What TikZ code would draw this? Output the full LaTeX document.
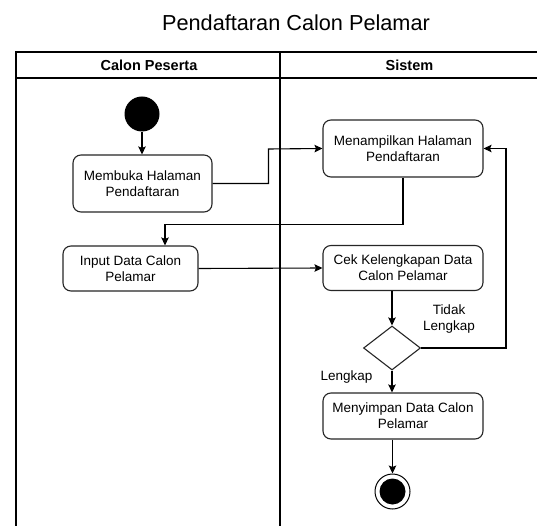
\documentclass[tikz,border=0pt]{standalone}
\usepackage{fontspec}
\setmainfont{Liberation Sans}
\usetikzlibrary{arrows.meta,shapes.geometric}

\begin{document}
\begin{tikzpicture}[x=1pt,y=-1pt,
  lane/.style={draw=black,line width=1.2pt},
  act/.style={draw=black!85,line width=1.1pt,rounded corners=8pt,fill=white,
    align=center,inner sep=0pt,font=\fontsize{13.5}{16}\selectfont},
  hdr/.style={font=\fontsize{14.5}{17}\selectfont\bfseries},
  lbl/.style={align=center,font=\fontsize{13.5}{16}\selectfont},
  flow/.style={draw=black,line width=1.1pt,-{Stealth[length=8pt,width=7.5pt,inset=1.5pt]}},
  link/.style={draw=black,line width=1.1pt},
]
\useasboundingbox (0,0) rectangle (537,526);

% swimlane frame, running past the page edges
\begin{scope}
  \clip (0,0) rectangle (537,526);
  \draw[lane] (16,540) -- (16,52) -- (560,52);
  \draw[lane] (16,78) -- (560,78);
  \draw[lane] (280,52) -- (280,540);
\end{scope}

% title and lane headers
\node[font=\fontsize{21.7}{26}\selectfont] (title) at (296,23) {Pendaftaran Calon Pelamar};
\node[hdr] (hpeserta) at (149,65) {Calon Peserta};
\node[hdr] (hsistem) at (409.5,65) {Sistem};

% activity nodes
\node[circle,fill=black,minimum size=35pt,inner sep=0pt] (start) at (142,114) {};
\node[act,minimum width=139pt,minimum height=57pt] (membuka) at (142.5,183.5) {Membuka Halaman\\Pendaftaran};
\node[act,minimum width=160pt,minimum height=57pt] (tampil) at (403,148.5) {Menampilkan Halaman\\Pendaftaran};
\node[act,minimum width=135pt,minimum height=45pt] (input) at (130.5,268.5) {Input Data Calon\\Pelamar};
\node[act,minimum width=160pt,minimum height=45pt] (cek) at (403,268) {Cek Kelengkapan Data\\Calon Pelamar};
\node[diamond,draw=black!85,line width=1.1pt,fill=white,minimum width=57pt,minimum height=44pt,inner sep=0pt] (dec) at (392,348) {};
\node[act,minimum width=160pt,minimum height=46pt] (simpan) at (403,416) {Menyimpan Data Calon\\Pelamar};
\node[circle,draw=black,line width=1pt,fill=white,minimum size=35pt,inner sep=0pt] (end) at (392.5,491.5) {};
\node[circle,fill=black,minimum size=26pt,inner sep=0pt] (endcore) at (end.center) {};

% guard labels
\node[lbl] (ltidak) at (449,319.5) {Tidak\\Lengkap};
\node[lbl] (llengkap) at (346.5,377) {Lengkap};

% bend points of the routed connectors
\coordinate (k1) at (268.5,149);
\coordinate (k2) at (165,224.3);
\coordinate (k3) at (506,148.5);

% control flow
\draw[flow] (start.south) -- (start.south |- membuka.north);
\draw[flow] (membuka.east) -| (k1) -- (tampil.west);
\draw[flow] (tampil.south) |- (k2) -- (k2 |- input.north);
\draw[flow] (input.east) -- (cek.west);
\draw[flow] (dec.north |- cek.south) -- (dec.north);
\draw[flow] (dec.east) -| (k3) -- (tampil.east);
\draw[flow] (dec.south) -- (dec.south |- simpan.north);
\draw[flow] (end.north |- simpan.south) -- (end.north);
\end{tikzpicture}
\end{document}
